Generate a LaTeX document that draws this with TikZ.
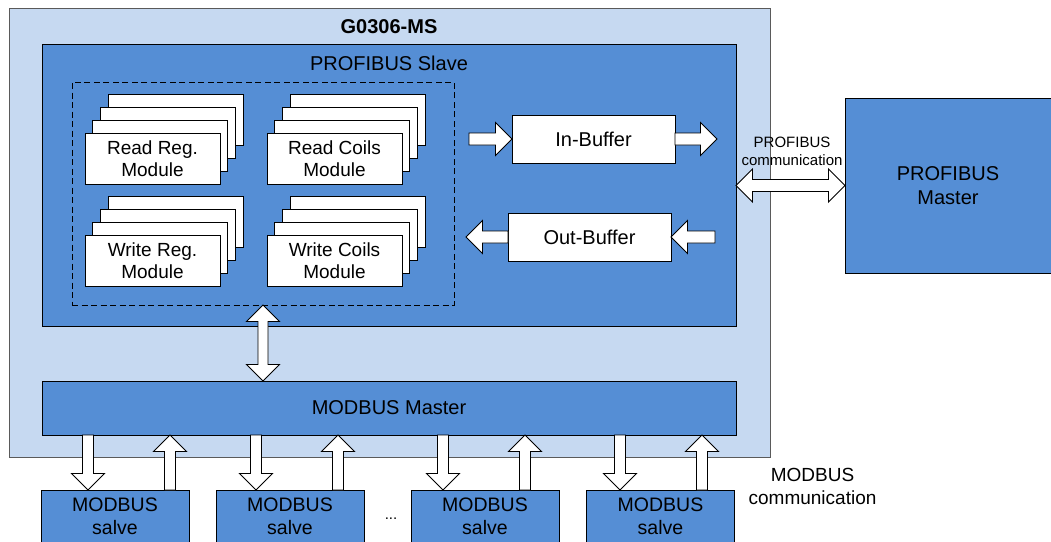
\documentclass[tikz,border=0pt]{standalone}
\usepackage{fontspec}
\setmainfont{Liberation Sans}
\usetikzlibrary{calc}
\definecolor{lightbg}{RGB}{198,217,241}
\definecolor{midblue}{RGB}{85,142,213}
\definecolor{edgegray}{RGB}{90,90,90}

% single block arrow from #2 to #3, shaft half width #1
\newcommand\blkarrow[3][6]{%
 \draw[arrowbox] let \p1=#2, \p2=#3, \p3=($(\p2)!16.5pt!(\p1)$) in
  ($(\p1)!#1pt!90:(\p2)$) -- ($(\p3)!#1pt!90:(\p2)$) -- ($(\p3)!16.5pt!90:(\p2)$)
  -- (\p2) -- ($(\p3)!16.5pt!-90:(\p2)$) -- ($(\p3)!#1pt!-90:(\p2)$)
  -- ($(\p1)!#1pt!-90:(\p2)$) -- cycle;}
% double block arrow between #2 and #3
\newcommand\dblarrow[3][6]{%
 \draw[arrowbox] let \p1=#2, \p2=#3, \p3=($(\p2)!16.5pt!(\p1)$),
   \p4=($(\p1)!16.5pt!(\p2)$) in
  (\p1) -- ($(\p4)!16.5pt!90:(\p2)$) -- ($(\p4)!#1pt!90:(\p2)$)
  -- ($(\p3)!#1pt!90:(\p2)$) -- ($(\p3)!16.5pt!90:(\p2)$) -- (\p2)
  -- ($(\p3)!16.5pt!-90:(\p2)$) -- ($(\p3)!#1pt!-90:(\p2)$)
  -- ($(\p4)!#1pt!-90:(\p2)$) -- ($(\p4)!16.5pt!-90:(\p2)$) -- cycle;}

\begin{document}
\begin{tikzpicture}[x=1pt,y=-1pt,line width=0.9pt,
  every node/.style={inner sep=0pt,outer sep=0pt},
  txt/.style={font=\fontsize{20}{24}\selectfont,align=center},
  outerbox/.style={draw=edgegray,fill=lightbg},
  bluebox/.style={draw=black,fill=midblue,txt},
  whitebox/.style={draw=black,fill=white,txt,minimum width=163pt,minimum height=48pt},
  modbox/.style={draw=black,fill=white,minimum width=135pt,minimum height=51pt,
    font=\fontsize{19}{22.5}\selectfont,align=center},
  slavebox/.style={bluebox,minimum width=148pt,minimum height=53pt,
    font=\fontsize{19.5}{23.5}\selectfont},
  dashbox/.style={draw=black,dashed,dash pattern=on 6pt off 3.5pt},
  arrowbox/.style={draw=black,fill=white,line join=miter}]
\useasboundingbox (0,0) rectangle (1051,541);
\clip (0,0) rectangle (1051,541);

% G0306-MS outer box
\node[outerbox,minimum width=761pt,minimum height=449pt] (g) at (389.5,232.5) {};
\node[font=\bfseries\fontsize{20}{24}\selectfont] (gl) at (389,27) {G0306-MS};

% PROFIBUS Slave
\node[bluebox,minimum width=694pt,minimum height=282pt] (ps) at (389,185) {};
\node[txt] (psl) at (389,63) {PROFIBUS Slave};

% dashed module group
\node[dashbox,minimum width=382pt,minimum height=223pt] (dz) at (263,193.5) {};

% module stacks
\foreach \k in {3,2,1} {
  \node[modbox] (rr\k) at ($(152.5,158.5)+(7.7*\k,-12.7*\k)$) {};
  \node[modbox] (rc\k) at ($(334.5,158.5)+(7.7*\k,-12.7*\k)$) {};
  \node[modbox] (wr\k) at ($(152.5,260.5)+(7.7*\k,-12.7*\k)$) {};
  \node[modbox] (wc\k) at ($(334.5,260.5)+(7.7*\k,-12.7*\k)$) {};
}
\node[modbox] (rr) at (152.5,158.5) {Read Reg.\\Module};
\node[modbox] (rc) at (334.5,158.5) {Read Coils\\Module};
\node[modbox] (wr) at (152.5,260.5) {Write Reg.\\Module};
\node[modbox] (wc) at (334.5,260.5) {Write Coils\\Module};

% buffers
\node[whitebox] (inb) at (593.5,139) {In-Buffer};
\node[whitebox] (outb) at (589.5,237) {Out-Buffer};
\coordinate (inl) at (469,139);
\coordinate (inr) at (717,139);
\coordinate (outr) at (715,237);
\coordinate (outl) at (466,237);

% PROFIBUS Master
\node[bluebox,minimum width=206pt,minimum height=175pt] (pm) at (948,185.5) {PROFIBUS\\Master};
\node[font=\fontsize{15}{18}\selectfont,align=center] (pcl) at (792,151) {PROFIBUS\\communication};

% MODBUS Master
\node[bluebox,minimum width=694pt,minimum height=54pt] (mm) at (389,408) {MODBUS Master};

% MODBUS slaves
\node[slavebox] (s1) at (115,516.5) {MODBUS\\salve};
\node[slavebox] (s2) at (290,516.5) {MODBUS\\salve};
\node[slavebox] (s3) at (485,516.5) {MODBUS\\salve};
\node[slavebox] (s4) at (660.5,516.5) {MODBUS\\salve};
\node[font=\fontsize{15}{18}\selectfont] (dots) at (391,519) {...};
\node[font=\fontsize{19}{23}\selectfont,align=center] (mcl) at (812.5,486) {MODBUS\\communication};

% arrows
\blkarrow{(inl)}{(inb.west)}
\blkarrow{(inb.east)}{(inr)}
\blkarrow{(outr)}{(outb.east)}
\blkarrow{(outb.west)}{(outl)}
\dblarrow{(ps.east |- pm.west)}{(pm.west)}
\dblarrow[5]{(dz.south)}{(mm.north -| dz.south)}

\foreach \i/\d/\u in {1/88/170, 2/256/338, 3/443/525, 4/620/702} {
  \coordinate (d\i) at (\d,0);
  \coordinate (u\i) at (\u,0);
  \blkarrow[5.5]{(mm.south -| d\i)}{(s\i.north -| d\i)}
  \blkarrow[5.5]{(s\i.north -| u\i)}{(mm.south -| u\i)}
}
\end{tikzpicture}
\end{document}
